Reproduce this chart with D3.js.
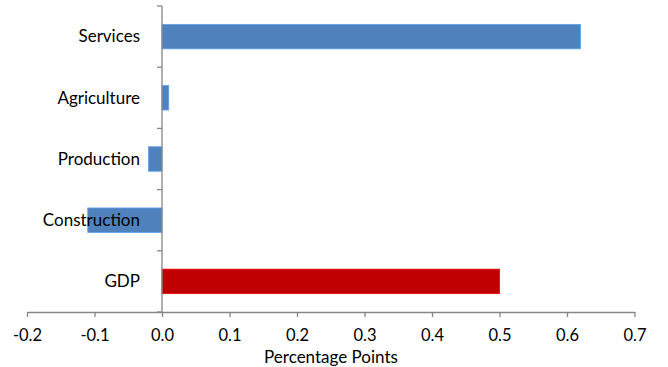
<!DOCTYPE html>
<html><head><meta charset="utf-8">
<script src="https://cdn.jsdelivr.net/npm/d3@7"></script>
<style>body{margin:0;background:#fff}svg{display:block;font-family:Lato,"Open Sans",sans-serif}</style>
</head><body><svg id="c" width="668" height="367"></svg>
<script>
const categories = ["Services","Agriculture","Production","Construction","GDP"];
const values = [0.62, 0.01, -0.02, -0.11, 0.50];
const barColors = ["#4F81BD","#4F81BD","#4F81BD","#4F81BD","#C00000"];
const xTicks = [-0.2,-0.1,0,0.1,0.2,0.3,0.4,0.5,0.6,0.7];
const xTitle = "Percentage Points";

const svg = d3.select("#c");
const x = d3.scaleLinear().domain([-0.2,0.7]).range([27,634.5]);
const y = d3.scaleBand().domain(categories).range([6,312]).paddingInner(0.6).paddingOuter(0.3);
const band = d3.scaleBand().domain(categories).range([6,312]);
const axisColor = "#868686";
const fs = 17;

svg.selectAll("rect.bar").data(categories).enter().append("rect")
  .attr("x", (d,i)=>Math.min(x(0),x(values[i])))
  .attr("width", (d,i)=>Math.abs(x(values[i])-x(0)))
  .attr("y", d=>y(d))
  .attr("height", y.bandwidth())
  .attr("fill", (d,i)=>barColors[i])
  .attr("stroke", (d,i)=>d3.color(barColors[i]).brighter(0.6))
  .attr("stroke-width",0.8);

const xa = svg.append("g").attr("transform",`translate(0,${312})`)
  .call(d3.axisBottom(x).tickValues(xTicks).tickSize(5).tickSizeOuter(0));
xa.select(".domain").attr("stroke",axisColor).attr("stroke-width",1.3);
xa.selectAll(".tick line").attr("stroke",axisColor).attr("stroke-width",1.3);
xa.selectAll(".tick text").attr("fill","#000").attr("font-size",16.5).attr("font-family","Lato").attr("dy","20.5")
  .text(d=>d<0?"-"+Math.abs(d).toFixed(1):d.toFixed(1));

const ya = svg.append("g").attr("transform",`translate(${x(0)},0)`);
ya.append("line").attr("x1",0).attr("x2",0).attr("y1",6).attr("y2",312).attr("stroke",axisColor).attr("stroke-width",1.3);
const bounds = categories.map(c=>band(c)).concat([312]);
ya.selectAll("line.t").data(bounds).enter().append("line")
  .attr("x1",-5).attr("x2",0).attr("y1",d=>d).attr("y2",d=>d)
  .attr("stroke",axisColor).attr("stroke-width",1.3);

svg.selectAll("text.cat").data(categories).enter().append("text")
  .attr("x", x(0)-22)
  .attr("y", d=>band(d)+band.bandwidth()/2)
  .attr("dy","0.34em")
  .attr("text-anchor","end")
  .attr("font-size",fs)
  .attr("fill","#000")
  .text(d=>d);

svg.append("text").attr("x",331).attr("y",362.5).attr("text-anchor","middle")
  .attr("font-size",fs).attr("fill","#000").text(xTitle);
</script></body></html>
